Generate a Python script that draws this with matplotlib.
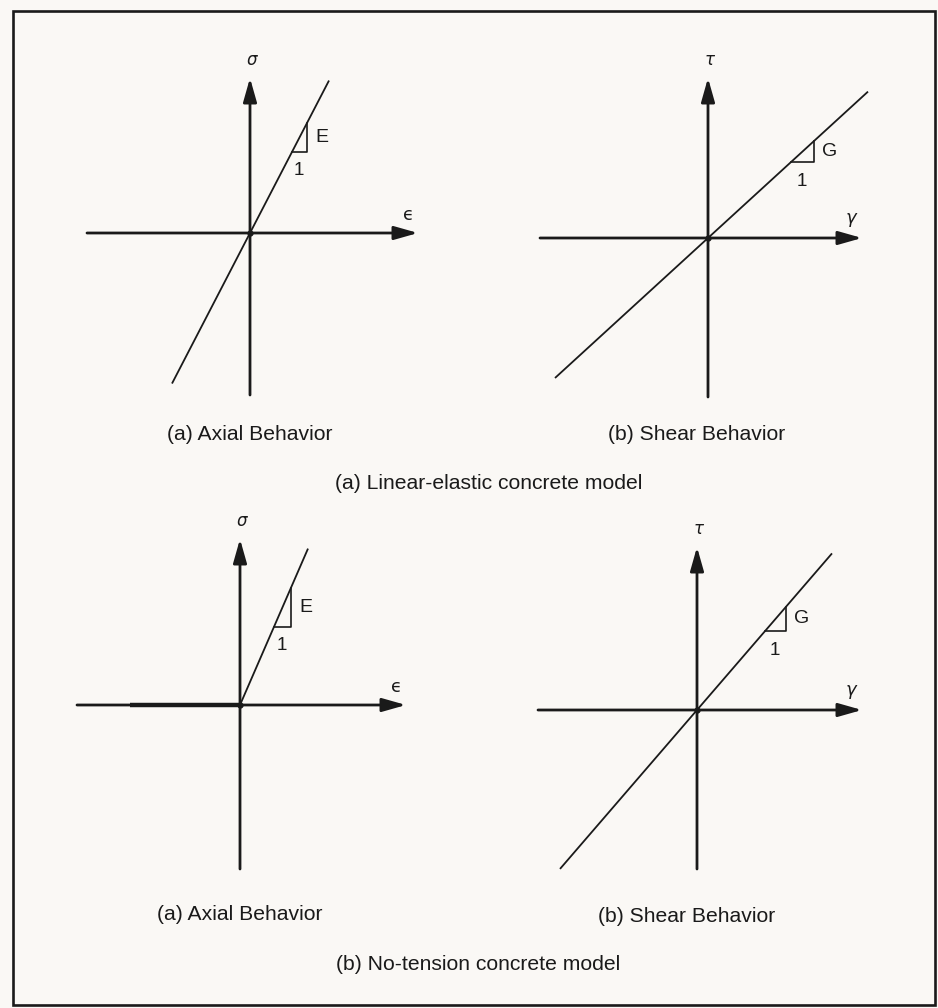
import matplotlib
matplotlib.use("Agg")
import matplotlib.pyplot as plt
from matplotlib.patches import Rectangle

W, H = 938, 1008

# four panels: linear-elastic (top row) and no-tension (bottom row)
panel_names = ["axial_linear", "shear_linear", "axial_notension", "shear_notension"]
stress_labels = [r"$\sigma$", r"$\tau$", r"$\sigma$", r"$\tau$"]
strain_labels = ["\u03f5", r"$\gamma$", "\u03f5", r"$\gamma$"]
modulus_labels = ["E", "G", "E", "G"]
subtitles = ["(a) Axial Behavior", "(b) Shear Behavior",
             "(a) Axial Behavior", "(b) Shear Behavior"]
model_titles = ["(a) Linear-elastic concrete model",
                "(b) No-tension concrete model"]

# stiffness (slope) of each response line and its strain range
slopes = [1.93, 0.915, 2.3, 1.16]
strain_min = [-78, -153, 0, -137]
strain_max = [79, 160, 68, 135]
# no-tension: zero stress branch on the tension side
zero_branch = [None, None, (-110, 0), None]

# axis arm lengths: left, right, down, up
arm_left = [163, 168, 163, 159]
arm_right = [168, 154, 166, 165]
arm_down = [162, 159, 164, 159]
arm_up = [155, 160, 166, 163]

# slope triangle: start strain and width
tri_start = [42, 83, 34, 68]
tri_width = [15, 23, 17, 21]

# layout (pixel positions of each panel origin)
origins = [(250, 233), (708, 238), (240, 705), (697, 710)]
subtitle_pos = [(250, 434), (697, 435), (240, 914), (687, 917)]
model_title_pos = [(489, 483), (478, 964)]

ink = "#1a1a1a"
bg = "#faf8f5"
title_font = "Liberation Sans"
title_size = 15.2

fig = plt.figure(figsize=(W / 100, H / 100), dpi=100)
fig.patch.set_facecolor(bg)

# outer frame
frame = fig.add_axes([0, 0, 1, 1])
frame.set_xlim(0, W)
frame.set_ylim(H, 0)
frame.axis("off")
frame.add_patch(Rectangle((13, 11), 922, 994, fill=False, lw=1.9, ec=ink))

R = 190  # half size of each panel box in pixels
for i, name in enumerate(panel_names):
    ox, oy = origins[i]
    ax = fig.add_axes([(ox - R) / W, 1 - (oy + R) / H, 2 * R / W, 2 * R / H])
    ax.set_xlim(-R, R)
    ax.set_ylim(-R, R)
    ax.axis("off")

    arrow = dict(arrowstyle="-|>,head_length=0.6,head_width=0.17",
                 lw=2.0, color=ink, mutation_scale=24, shrinkA=0, shrinkB=0)
    ax.annotate("", xy=(arm_right[i], 0), xytext=(-arm_left[i], 0), arrowprops=arrow)
    ax.annotate("", xy=(0, arm_up[i]), xytext=(0, -arm_down[i]), arrowprops=arrow)

    k = slopes[i]
    ax.plot([strain_min[i], strain_max[i]], [k * strain_min[i], k * strain_max[i]],
            color=ink, lw=1.3, solid_capstyle="butt")
    if zero_branch[i] is not None:
        ax.plot(zero_branch[i], [0, 0], color=ink, lw=3.2, solid_capstyle="butt")
    ax.plot([0], [0], "o", color=ink, ms=3.5)

    # slope triangle
    x0 = tri_start[i]
    x1 = x0 + tri_width[i]
    ax.plot([x0, x1, x1], [k * x0, k * x0, k * x1], color=ink, lw=1.2)
    ax.text(x1 + 8, (k * x0 + k * x1) / 2, modulus_labels[i], fontsize=14,
            family=title_font, color=ink, ha="left", va="center")
    ax.text((x0 + x1) / 2 - 1, k * x0 - 19, "1", fontsize=13.5,
            family=title_font, color=ink, ha="center", va="center")

    ax.text(2, arm_up[i] + 18, stress_labels[i], fontsize=12, color=ink,
            ha="center", va="center")
    ax.text(arm_right[i] - 10, 18, strain_labels[i], fontsize=13, color=ink,
            ha="center", va="center")

    sx, sy = subtitle_pos[i]
    fig.text(sx / W, 1 - sy / H, subtitles[i], fontsize=title_size, family=title_font,
             color=ink, ha="center", va="center")

for t, (tx, ty) in zip(model_titles, model_title_pos):
    fig.text(tx / W, 1 - ty / H, t, fontsize=title_size, family=title_font,
             color=ink, ha="center", va="center")

fig.savefig("out.png", dpi=100, facecolor=bg)
